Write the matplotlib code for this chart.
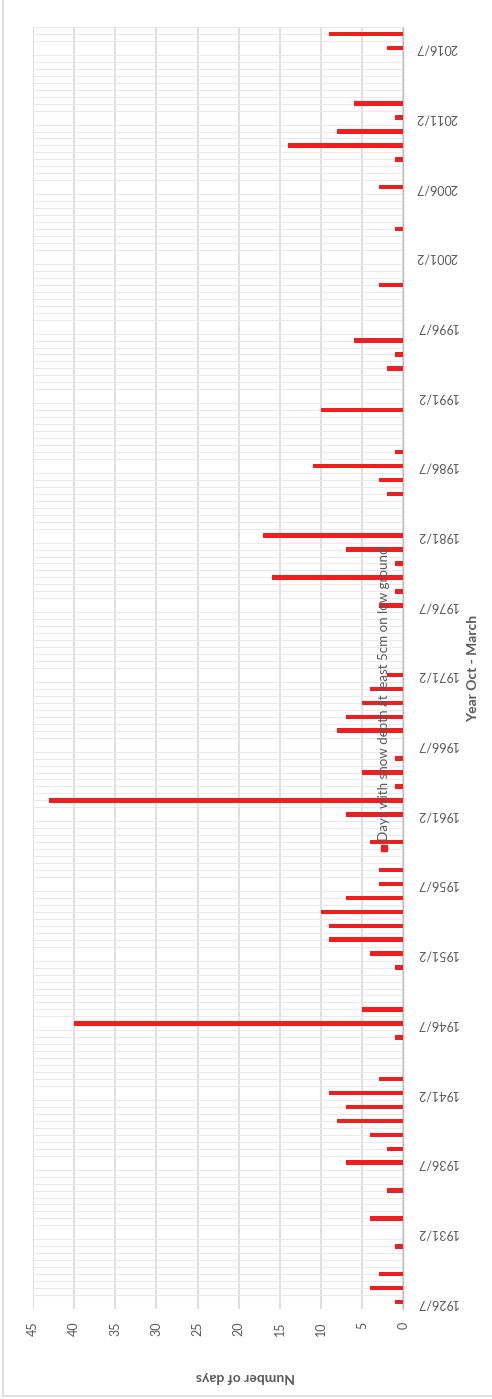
import numpy as np
import matplotlib.pyplot as plt
import matplotlib.patches as patches

## data: winters Oct - March, 1926/7 .. 2017/8
start_years = list(range(1926, 2018))
snow_days = [1, 4, 3, 0, 1, 0, 4, 0, 2, 0,
             7, 2, 4, 8, 7, 9, 3, 0, 0, 1,
             40, 5, 0, 0, 1, 4, 9, 9, 10, 7,
             3, 3, 0, 4, 0, 7, 43, 1, 5, 1,
             0, 8, 7, 5, 4, 2, 0, 0, 0, 0,
             3, 1, 16, 1, 7, 17, 0, 0, 2, 3,
             11, 1, 0, 0, 10, 0, 0, 2, 1, 6,
             0, 0, 0, 3, 0, 0, 0, 1, 0, 0,
             3, 0, 1, 14, 8, 1, 6, 0, 0, 0,
             2, 9]
value_ticks = [0, 5, 10, 15, 20, 25, 30, 35, 40, 45]
label_every = 5

series_name = 'Days with snow depth at least 5cm on low ground'
bar_color = '#f01f1f'
text_color = '#595959'

plt.rcParams['font.family'] = ['Lato', 'DejaVu Sans']

W, H = 492, 1399
fig = plt.figure(figsize=(W / 100, H / 100), dpi=100)

# plot area in pixels
x0, x1 = 33, 403.3
y_top, y_bot = 27, 1309
ax = fig.add_axes([x0 / W, 1 - y_bot / H, (x1 - x0) / W, (y_bot - y_top) / H])

idx = np.arange(len(start_years))
ax.barh(idx, snow_days, height=0.32, color=bar_color, zorder=3)

ax.set_xlim(45, 0)
ax.set_ylim(-0.5, len(start_years) - 0.5)

# value axis
ax.set_xticks(value_ticks)
ax.set_xticklabels([str(v) for v in value_ticks], rotation=90, fontsize=9, color=text_color)
ax.tick_params(axis='x', length=0, pad=9)
ax.grid(axis='x', color='#d6d6d6', lw=1.1, zorder=1)

# category axis, labelled every fifth winter
lab_idx = idx[::label_every]
labels = [f"{start_years[i]}/{(start_years[i] + 1) % 10}" for i in lab_idx]
ax.yaxis.tick_right()
ax.set_yticks(lab_idx)
ax.set_yticklabels(labels, rotation=180, fontsize=9, color=text_color)
ax.tick_params(axis='y', length=0, pad=9)
ax.set_yticks(np.arange(-0.5, len(start_years), 0.5), minor=True)
ax.tick_params(axis='y', which='minor', length=0)
ax.grid(axis='y', which='minor', color='#eaeaea', lw=0.8, zorder=1)

for s in ['top', 'left', 'bottom']:
    ax.spines[s].set_visible(False)
ax.spines['right'].set_color('#bfbfbf')
ax.spines['right'].set_linewidth(1.0)

# axis titles
fig.text(245 / W, 1 - 1377 / H, 'Number of days', rotation=180, ha='center', va='center',
         fontsize=10, fontweight='bold', color=text_color)
fig.text(473 / W, 1 - 668 / H, 'Year Oct - March', rotation=90, ha='center', va='center',
         fontsize=10, fontweight='bold', color=text_color)

# legend
fig.patches.append(patches.Rectangle((381 / W, 1 - 851 / H), 6 / W, 6 / H,
                                     transform=fig.transFigure, color=bar_color))
fig.text(384 / W, 1 - 841 / H, series_name, rotation=90, ha='center', va='bottom',
         fontsize=9.6, color=text_color)

# chart border
fig.add_artist(plt.Line2D([3 / W, 3 / W], [1 - 1396 / H, 1], transform=fig.transFigure,
                          color='#d9d9d9', lw=1.2))
fig.add_artist(plt.Line2D([3 / W, 1], [1 - 1396 / H, 1 - 1396 / H], transform=fig.transFigure,
                          color='#d9d9d9', lw=1.2))

plt.savefig('out.png', dpi=100)
